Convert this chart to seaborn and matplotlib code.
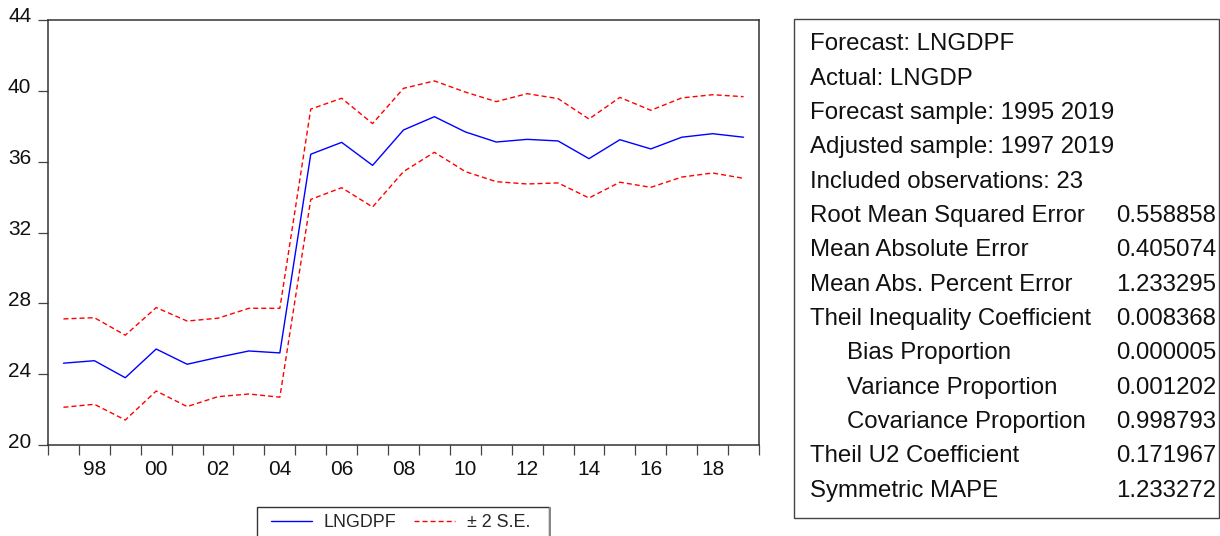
import numpy as np
import pandas as pd
import matplotlib
matplotlib.use("Agg")
import matplotlib.pyplot as plt
import matplotlib.transforms as mtransforms
from matplotlib.patches import Rectangle
from matplotlib.ticker import FixedLocator, NullFormatter, FixedFormatter
import seaborn as sns

# forecast series
years = list(range(1997, 2020))
forecast = [24.62, 24.76, 23.80, 25.42, 24.56, 24.95, 25.31, 25.20,
            36.42, 37.09, 35.79, 37.79, 38.54, 37.68, 37.11, 37.26,
            37.17, 36.17, 37.24, 36.72, 37.38, 37.58, 37.38]
upper = [27.12, 27.19, 26.20, 27.76, 27.00, 27.16, 27.72, 27.72,
         38.97, 39.58, 38.15, 40.14, 40.56, 39.93, 39.39, 39.84,
         39.56, 38.41, 39.63, 38.90, 39.60, 39.78, 39.67]
lower = [22.13, 22.30, 21.41, 23.05, 22.17, 22.73, 22.88, 22.70,
         33.87, 34.53, 33.44, 35.44, 36.53, 35.44, 34.87, 34.74,
         34.80, 33.95, 34.84, 34.55, 35.13, 35.36, 35.06]
yticks = [20, 24, 28, 32, 36, 40, 44]
xlabel_years = [1998, 2000, 2002, 2004, 2006, 2008, 2010, 2012, 2014, 2016, 2018]
xlabels = ["98", "00", "02", "04", "06", "08", "10", "12", "14", "16", "18"]

# forecast evaluation table
stat_names = ["Forecast: LNGDPF", "Actual: LNGDP", "Forecast sample: 1995 2019",
              "Adjusted sample: 1997 2019", "Included observations: 23",
              "Root Mean Squared Error", "Mean Absolute Error",
              "Mean Abs. Percent Error", "Theil Inequality Coefficient",
              "Bias Proportion", "Variance Proportion", "Covariance Proportion",
              "Theil U2 Coefficient", "Symmetric MAPE"]
stat_values = ["", "", "", "", "", "0.558858", "0.405074", "1.233295",
               "0.008368", "0.000005", "0.001202", "0.998793", "0.171967",
               "1.233272"]
stat_indent = [0, 0, 0, 0, 0, 0, 0, 0, 0, 1, 1, 1, 0, 0]

df = pd.DataFrame({"year": years, "LNGDPF": forecast, "upper": upper, "lower": lower})

sns.set_style("white")
plt.rcParams["font.family"] = ["Liberation Sans", "DejaVu Sans"]

W, H = 1220, 536
fig = plt.figure(figsize=(W / 100, H / 100), dpi=100)


def fx(x):
    return x / W


def fy(y):
    return 1 - y / H


ax = fig.add_axes([fx(48), fy(445), fx(759 - 48), (445 - 20) / H])

dash = (0, (3.6, 2.2))
sns.lineplot(data=df, x="year", y="LNGDPF", ax=ax, color="#0000ff", lw=1.0,
             label="LNGDPF", errorbar=None)
sns.lineplot(data=df, x="year", y="upper", ax=ax, color="#ff0000", lw=1.0,
             linestyle=dash, label="\u00b1 2 S.E.", errorbar=None)
sns.lineplot(data=df, x="year", y="lower", ax=ax, color="#ff0000", lw=1.0,
             linestyle=dash, errorbar=None)

ax.set_xlim(1996.5, 2019.5)
ax.set_ylim(20, 44)
ax.set_xlabel("")
ax.set_ylabel("")

# x: ticks between years, labels under even years
ax.xaxis.set_major_locator(FixedLocator(np.arange(1996.5, 2020, 1)))
ax.xaxis.set_major_formatter(NullFormatter())
ax.xaxis.set_minor_locator(FixedLocator(xlabel_years))
ax.xaxis.set_minor_formatter(FixedFormatter(xlabels))
ax.tick_params(axis="x", which="major", direction="out", length=7, width=0.9,
               color="#444444", bottom=True)
ax.tick_params(axis="x", which="minor", length=0, pad=11, labelsize=15,
               bottom=True, labelcolor="#111111")

ax.set_yticks(yticks)
ax.tick_params(axis="y", direction="out", length=7, width=0.9, color="#444444",
               left=True, pad=5, labelsize=15, labelcolor="#111111")
offset = mtransforms.ScaledTranslation(0, 5 / 100, fig.dpi_scale_trans)
for lab in ax.get_yticklabels():
    lab.set_transform(lab.get_transform() + offset)

for sp in ax.spines.values():
    sp.set_color("#333333")
    sp.set_linewidth(1.1)

handles, labels = ax.get_legend_handles_labels()
ax.get_legend().remove()
fig.legend(handles, labels, loc="upper left", bbox_to_anchor=(fx(271), fy(514)),
           ncol=2, frameon=False, borderpad=0, borderaxespad=0,
           handlelength=2.27, handletextpad=0.68, columnspacing=1.0,
           fontsize=12.9)
fig.add_artist(Rectangle((fx(257), fy(548)), fx(549 - 257), (548 - 507) / H,
                         transform=fig.transFigure, fill=False,
                         edgecolor="#333333", lw=1.0))
# grey shadow on the right edge of the legend box
fig.add_artist(Rectangle((fx(549), fy(548)), fx(1.5), (548 - 507) / H,
                         transform=fig.transFigure, fill=True, lw=0,
                         facecolor="#888888"))

# statistics box
fig.add_artist(Rectangle((fx(794), fy(518)), fx(1219 - 794), (518 - 19) / H,
                         transform=fig.transFigure, fill=False,
                         edgecolor="#444444", lw=1.0))
for i, (name, val, ind) in enumerate(zip(stat_names, stat_values, stat_indent)):
    yb = 50.5 + i * 34.32
    fig.text(fx(847 if ind else 810), fy(yb), name, fontsize=17.3,
             va="baseline", ha="left", color="#111111")
    if val:
        fig.text(fx(1216), fy(yb), val, fontsize=17.3, va="baseline",
                 ha="right", color="#111111")

fig.savefig("out.png", dpi=100)
